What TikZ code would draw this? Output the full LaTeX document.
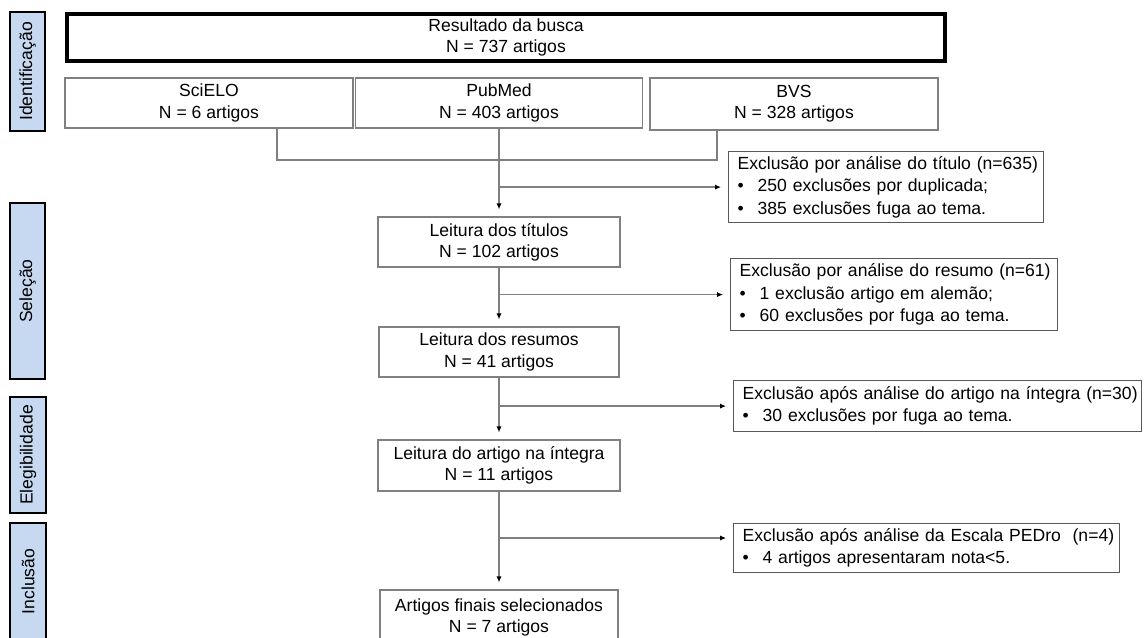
\documentclass[tikz,border=0pt]{standalone}
\usepackage{fontspec}
\setmainfont{Liberation Sans}
\usetikzlibrary{arrows.meta,calc}
\definecolor{azulfase}{HTML}{C6D9F1}
\definecolor{borda}{HTML}{808080}
\definecolor{bordaexc}{HTML}{595959}
\newcommand{\bul}[1]{\mbox{\makebox[0.4cm][l]{\textbullet}#1}}

\begin{document}
\begin{tikzpicture}[x=0.02cm,y=-0.02cm,
  font=\fontsize{10}{12}\selectfont,
  fase/.style={draw=black, line width=1.1pt, fill=azulfase, rotate=90, minimum height=0.7cm, inner sep=0},
  caixa/.style={draw=borda, line width=0.7pt, fill=white, align=center, inner sep=0},
  excl/.style={draw=bordaexc, line width=0.7pt, anchor=north west, align=left, inner xsep=0.18cm, inner ysep=0, font=\fontsize{10}{12.8}\selectfont},
  linha/.style={draw=borda, line width=0.7pt},
  seta/.style={linha, -{Latex[black,length=3.4pt,width=3pt]}, shorten >=0.14cm}]
\useasboundingbox (0,0) rectangle (1147,638);

% fases
\node[fase, minimum width=2.38cm] (ident) at (27.5,71.5) {Identificação};
\node[fase, minimum width=3.52cm] (selec) at (27.5,291) {Seleção};
\node[fase, minimum width=2.32cm, minimum height=0.72cm] (eleg) at (28,455) {Elegibilidade};
\node[fase, minimum width=2.34cm, minimum height=0.72cm] (incl) at (28,581.5) {Inclusão};

% bases de dados
\node[caixa, draw=black, line width=2.3pt, minimum width=17.56cm, minimum height=0.94cm] (busca) at (506,37.5) {Resultado da busca\\N = 737 artigos};
\node[caixa, minimum width=5.76cm, minimum height=1cm] (scielo) at (209,103) {SciELO\\N = 6 artigos};
\node[caixa, minimum width=5.74cm, minimum height=1cm] (pubmed) at (499,103) {PubMed\\N = 403 artigos};
\node[caixa, minimum width=5.76cm, minimum height=1.04cm] (bvs) at (794,104) {BVS\\N = 328 artigos};

% etapas
\node[caixa, minimum width=4.84cm, minimum height=1cm] (titulos) at (499,242) {Leitura dos títulos\\N = 102 artigos};
\node[caixa, minimum width=4.8cm, minimum height=1cm] (resumos) at (499,352) {Leitura dos resumos\\N = 41 artigos};
\node[caixa, minimum width=4.84cm, minimum height=1.02cm] (artigo) at (499,465.5) {Leitura do artigo na íntegra\\N = 11 artigos};
\node[caixa, minimum width=4.76cm, minimum height=1.1cm] (finais) at (499,617.5) {Artigos finais selecionados\\N = 7 artigos};

% exclusoes
\node[excl, text width=5.94cm, minimum height=1.42cm] (exc1) at (728,151) {\mbox{Exclusão por análise do título (n=635)}\\\bul{250 exclusões por duplicada;}\\\bul{385 exclusões fuga ao tema.}};
\node[excl, text width=6.18cm, minimum height=1.44cm] (exc2) at (730,258) {\mbox{Exclusão por análise do resumo (n=61)}\\\bul{1 exclusão artigo em alemão;}\\\bul{60 exclusões por fuga ao tema.}};
\node[excl, text width=7.8cm, minimum height=1.02cm] (exc3) at (733,380) {\mbox{Exclusão após análise do artigo na íntegra (n=30)}\\\bul{30 exclusões por fuga ao tema.}};
\node[excl, text width=7.36cm, minimum height=0.98cm] (exc4) at (733,523) {\mbox{Exclusão após análise da Escala PEDro\ \ (n=4)}\\\bul{4 artigos apresentaram nota<5.}};

% conectores
\coordinate (j1) at (499,160);
\coordinate (b4) at (499,538);
\draw[linha] ($(scielo.south)+(68,0)$) |- (j1) -| ($(bvs.south)+(-77,0)$);
\draw[seta] (pubmed.south) -- (titulos.north);
\draw[seta] (titulos.north |- exc1.west) -- (exc1.west);
\draw[seta] (titulos.south) -- (resumos.north);
\draw[seta] (titulos.south |- exc2.west) -- (exc2.west);
\draw[seta] (resumos.south) -- (artigo.north);
\draw[seta] (resumos.south |- exc3.west) -- (exc3.west);
\draw[seta] (artigo.south) -- (finais.north);
\draw[seta] (b4) -- (b4 -| exc4.west);
\end{tikzpicture}
\end{document}
